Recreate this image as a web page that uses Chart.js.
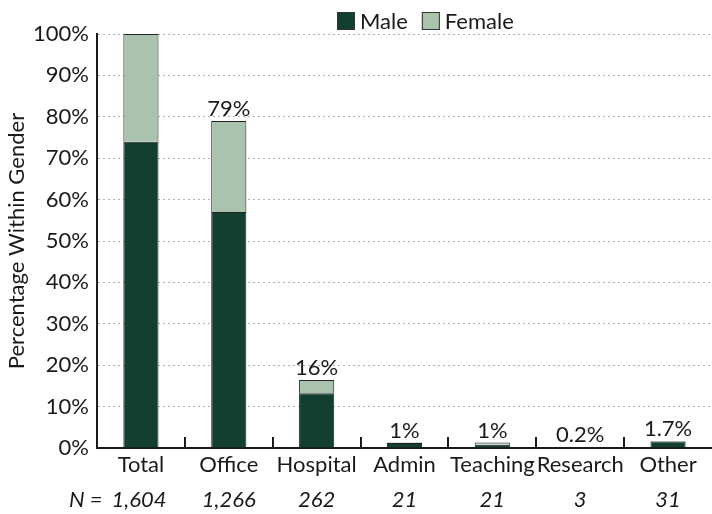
<!DOCTYPE html>
<html>
<head>
<meta charset="utf-8">
<script src="https://cdn.jsdelivr.net/npm/chart.js"></script>
<style>
  html, body { margin: 0; padding: 0; background: #fff; }
  #wrap { width: 712px; height: 514px; }
</style>
</head>
<body>
<div id="wrap"><canvas id="chart" width="712" height="514"></canvas></div>
<script>
  // Daten
  const categories = ['Total', 'Office', 'Hospital', 'Admin', 'Teaching', 'Research', 'Other'];
  const male = [74, 57, 13.2, 1.2, 0.8, 0.1, 1.6];
  const female = [26, 22, 3.2, 0.1, 0.5, 0.1, 0.1];
  const topLabels = ['', '79%', '16%', '1%', '1%', '0.2%', '1.7%'];
  const nValues = ['1,604', '1,266', '262', '21', '21', '3', '31'];
  const yTicks = [0, 10, 20, 30, 40, 50, 60, 70, 80, 90, 100];

  const FONT = 'Lato, "Open Sans", sans-serif';
  const DARK = '#133f30';
  const LIGHT = '#a9c3ae';
  const INK = '#1a1a1a';

  // Legende, Balkenbeschriftung, N-Zeile und Teilstriche
  const extras = {
    id: 'extras',
    afterDraw(chart) {
      const ctx = chart.ctx;
      const x = chart.scales.x;
      const area = chart.chartArea;
      ctx.save();

      // Teilstriche nach innen an den Kategoriegrenzen
      const step = x.getPixelForValue(1) - x.getPixelForValue(0);
      ctx.strokeStyle = INK;
      ctx.lineWidth = 2;
      for (let i = 1; i < categories.length; i++) {
        const px = Math.round(x.getPixelForValue(i) - step / 2);
        ctx.beginPath();
        ctx.moveTo(px, area.bottom);
        ctx.lineTo(px, area.bottom - 11);
        ctx.stroke();
      }

      // Werte über den Balken
      const meta = chart.getDatasetMeta(1);
      ctx.fillStyle = INK;
      ctx.font = '22px ' + FONT;
      ctx.textAlign = 'center';
      ctx.textBaseline = 'bottom';
      meta.data.forEach((bar, i) => {
        if (topLabels[i]) ctx.fillText(topLabels[i], bar.x, bar.y - 1);
      });

      // N-Zeile
      ctx.font = 'italic 22px ' + FONT;
      ctx.textBaseline = 'middle';
      const ny = 500;
      nValues.forEach((v, i) => {
        ctx.fillText(v, x.getPixelForValue(i) - (i === 0 ? 2 : 0), ny);
      });
      const w0 = ctx.measureText(nValues[0]).width;
      ctx.textAlign = 'right';
      ctx.fillText('N =', x.getPixelForValue(0) - 2 - w0 / 2 - 9, ny);

      // Legende oben
      ctx.font = '22px ' + FONT;
      ctx.textAlign = 'left';
      let lx = 337;
      const ly = 12;
      [['Male', DARK], ['Female', LIGHT]].forEach(([label, col]) => {
        ctx.fillStyle = col;
        ctx.fillRect(lx, ly, 18, 18);
        ctx.strokeStyle = '#333';
        ctx.lineWidth = 1;
        ctx.strokeRect(lx + 0.5, ly + 0.5, 17, 17);
        ctx.fillStyle = INK;
        ctx.fillText(label, lx + 23, ly + 10);
        lx += 23 + ctx.measureText(label).width + 14;
      });
      ctx.restore();
    }
  };

  new Chart(document.getElementById('chart'), {
    type: 'bar',
    data: {
      labels: categories,
      datasets: [
        { label: 'Male', data: male, backgroundColor: DARK, borderColor: '#222', borderWidth: 1 },
        { label: 'Female', data: female, backgroundColor: LIGHT, borderColor: '#222', borderWidth: 1 }
      ]
    },
    options: {
      responsive: false,
      animation: false,
      layout: { padding: { top: 34, right: 0, left: 0, bottom: 0 } },
      datasets: { bar: { categoryPercentage: 1, barPercentage: 0.4 } },
      plugins: { legend: { display: false }, tooltip: { enabled: false } },
      scales: {
        x: {
          stacked: true,
          grid: { display: false, drawTicks: false },
          border: { color: INK, width: 2 },
          ticks: { color: INK, font: { family: FONT, size: 22 }, padding: 4, maxRotation: 0, autoSkip: false },
          afterFit(scale) { scale.height = 66; }
        },
        y: {
          stacked: true,
          min: 0,
          max: 100,
          afterBuildTicks(scale) { scale.ticks = yTicks.map(v => ({ value: v })); },
          grid: { color: '#b0b0b0', drawTicks: false },
          border: { color: INK, width: 2, dash: [2, 3] },
          ticks: { color: INK, font: { family: FONT, size: 22 }, padding: 8, callback: v => v + '%' },
          title: {
            display: true,
            text: 'Percentage Within Gender',
            color: INK,
            font: { family: FONT, size: 22 },
            padding: { top: 4, bottom: 0 }
          },
          afterFit(scale) { scale.width = 97; }
        }
      }
    },
    plugins: [extras]
  });
</script>
</body>
</html>
